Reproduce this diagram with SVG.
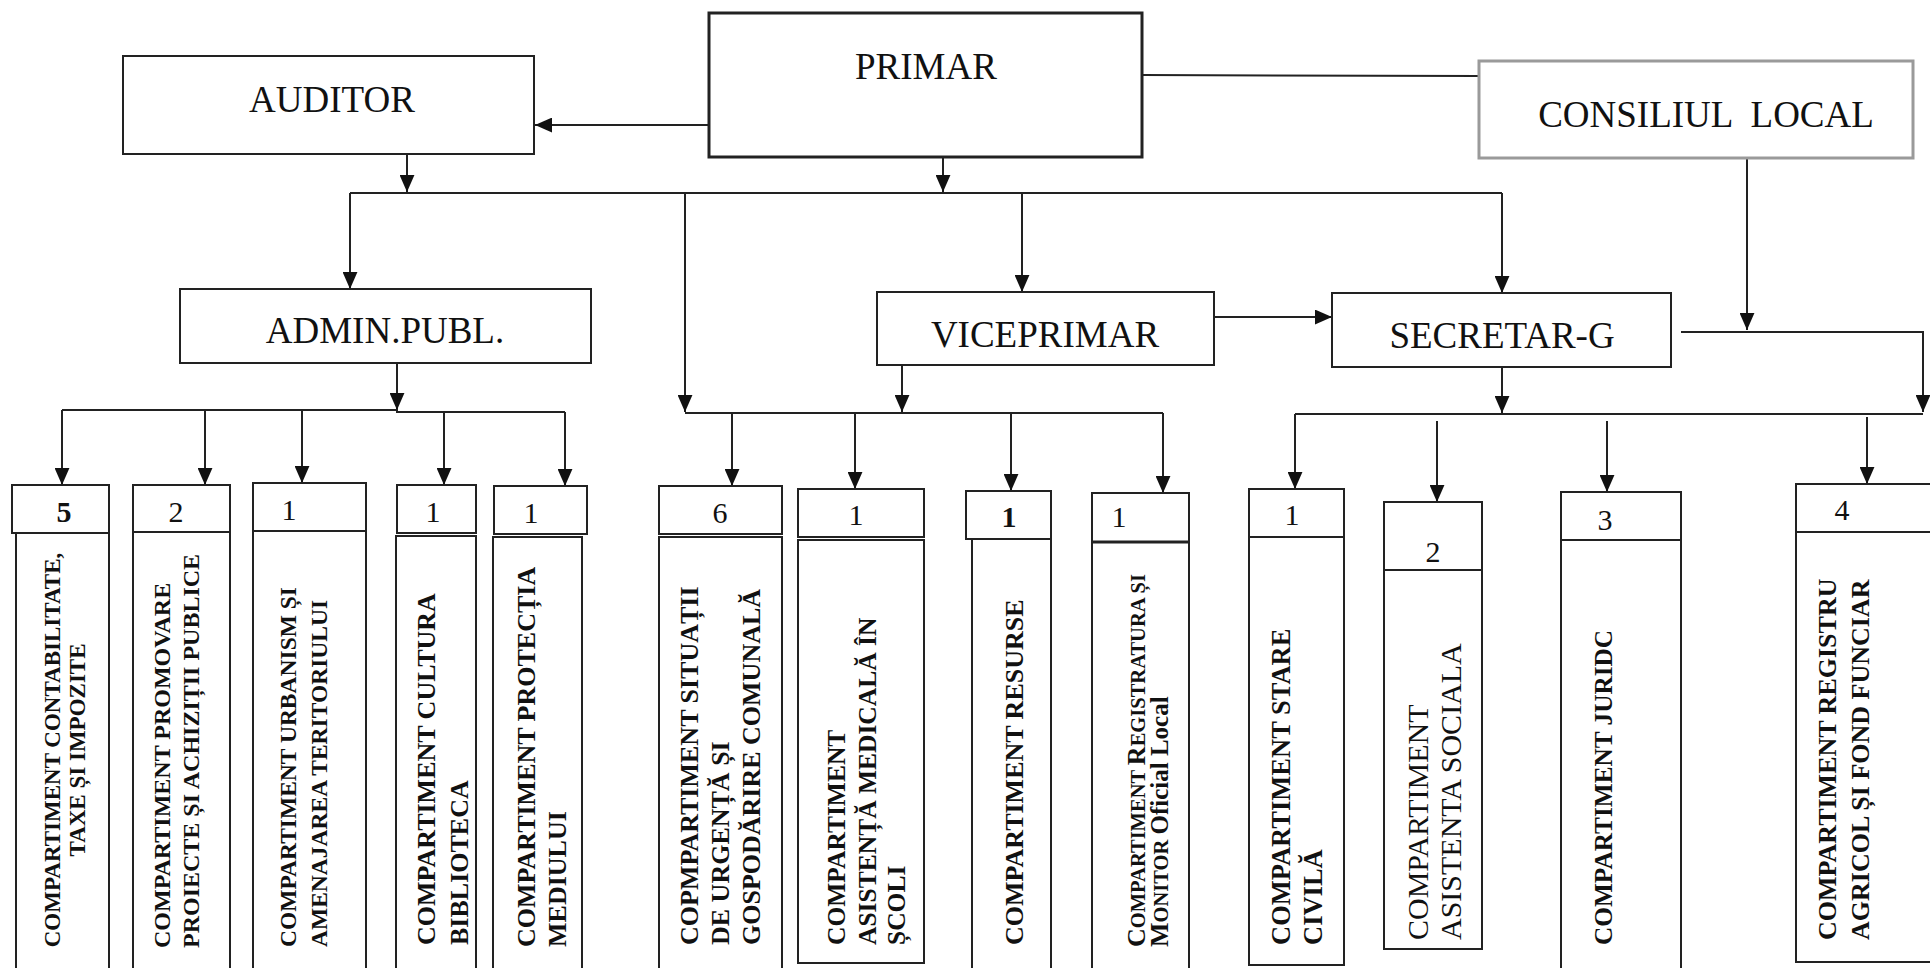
<svg xmlns="http://www.w3.org/2000/svg" width="1930" height="968" viewBox="0 0 1930 968">
<style>
.bx{fill:#fff;stroke:#222;stroke-width:2}
.thick{stroke-width:3}
.gray{stroke:#9a9a9a;stroke-width:3}
.t{font-family:"Liberation Serif","Times New Roman",serif;fill:#111}
.top{font-size:37px;text-anchor:middle}
.num{font-size:30px;text-anchor:middle}
.b{font-weight:bold}
.c{text-anchor:middle}
.s{text-anchor:start}
.sc{font-size:20.5px}
.big{font-size:26px}
#connectors line,#connectors path{stroke:#222;stroke-width:2;fill:none}
.arr{marker-end:url(#ah)}
</style>
<defs>
<marker id="ah" viewBox="0 0 16 14" refX="16" refY="7" markerWidth="17" markerHeight="15" markerUnits="userSpaceOnUse" orient="auto">
<path d="M0,0 L16,7 L0,14 z" fill="#111"/>
</marker>
</defs>
<rect width="1930" height="968" fill="#fff"/>

<g id="connectors">
<line class="arr" x1="709" y1="125" x2="535" y2="125"/>
<line x1="1142" y1="75" x2="1479" y2="76"/>
<line class="arr" x1="407" y1="154" x2="407" y2="192"/>
<line class="arr" x1="943" y1="157" x2="943" y2="192"/>
<line x1="350" y1="193" x2="1502" y2="193"/>
<line class="arr" x1="350" y1="193" x2="350" y2="289"/>
<line class="arr" x1="685" y1="193" x2="685" y2="412"/>
<line class="arr" x1="1022" y1="193" x2="1022" y2="292"/>
<line class="arr" x1="1502" y1="193" x2="1502" y2="293"/>
<line class="arr" x1="1214" y1="317" x2="1332" y2="317"/>
<line class="arr" x1="1747" y1="158" x2="1747" y2="330"/>
<path class="arr" d="M1681,332 H1923 V412"/>
<line class="arr" x1="397" y1="363" x2="397" y2="410"/>
<path d="M62,410 H397 V412 H565"/>
<line class="arr" x1="62" y1="410" x2="62" y2="485"/>
<line class="arr" x1="205" y1="410" x2="205" y2="485"/>
<line class="arr" x1="302" y1="410" x2="302" y2="483"/>
<line class="arr" x1="444" y1="412" x2="444" y2="485"/>
<line class="arr" x1="565" y1="412" x2="565" y2="486"/>
<line class="arr" x1="902" y1="365" x2="902" y2="412"/>
<line x1="685" y1="413" x2="1163" y2="413"/>
<line class="arr" x1="732" y1="413" x2="732" y2="486"/>
<line class="arr" x1="855" y1="413" x2="855" y2="489"/>
<line class="arr" x1="1011" y1="413" x2="1011" y2="491"/>
<line class="arr" x1="1163" y1="413" x2="1163" y2="493"/>
<line class="arr" x1="1502" y1="367" x2="1502" y2="413"/>
<line x1="1295" y1="414" x2="1923" y2="414"/>
<line class="arr" x1="1295" y1="414" x2="1295" y2="489"/>
<line class="arr" x1="1437" y1="421" x2="1437" y2="502"/>
<line class="arr" x1="1607" y1="421" x2="1607" y2="492"/>
<line class="arr" x1="1867" y1="417" x2="1867" y2="484"/>
</g>

<g id="primar">
<rect class="bx thick" x="709" y="13" width="433" height="144"/>
<text class="t top" x="926" y="79">PRIMAR</text>
</g>
<g id="auditor">
<rect class="bx" x="123" y="56" width="411" height="98"/>
<text class="t top" x="332" y="112">AUDITOR</text>
</g>
<g id="consiliul-local">
<rect class="bx gray" x="1479" y="61" width="434" height="97"/>
<text class="t top" x="1706" y="127" xml:space="preserve">CONSILIUL  LOCAL</text>
</g>
<g id="admin-publ">
<rect class="bx" x="180" y="289" width="411" height="74"/>
<text class="t top" x="385" y="343">ADMIN.PUBL.</text>
</g>
<g id="viceprimar">
<rect class="bx" x="877" y="292" width="337" height="73"/>
<text class="t top" x="1045" y="347">VICEPRIMAR</text>
</g>
<g id="secretar-g">
<rect class="bx" x="1332" y="293" width="339" height="74"/>
<text class="t top" x="1502" y="348">SECRETAR-G</text>
</g>

<g id="comp-contabilitate">
<rect class="bx" x="16" y="533" width="93" height="440"/>
<rect class="bx" x="12" y="485" width="97" height="48"/>
<text class="t num b" x="64" y="522">5</text>
<text class="t b c" font-size="23" transform="translate(60,750) rotate(-90)">COMPARTIMENT CONTABILITATE,</text>
<text class="t b c" font-size="23" transform="translate(85,750) rotate(-90)">TAXE ȘI IMPOZITE</text>
</g>
<g id="comp-promovare">
<rect class="bx" x="133" y="532" width="97" height="440"/>
<rect class="bx" x="133" y="485" width="97" height="47"/>
<text class="t num" x="176" y="522">2</text>
<text class="t b s" font-size="24" transform="translate(170,948) rotate(-90)">COMPARTIMENT PROMOVARE</text>
<text class="t b s" font-size="24" transform="translate(199,948) rotate(-90)">PROIECTE ȘI ACHIZIȚII PUBLICE</text>
</g>
<g id="comp-urbanism">
<rect class="bx" x="253" y="531" width="113" height="440"/>
<rect class="bx" x="253" y="483" width="113" height="48"/>
<text class="t num" x="289" y="520">1</text>
<text class="t b s" font-size="23.5" transform="translate(296,947) rotate(-90)">COMPARTIMENT URBANISM ȘI</text>
<text class="t b s" font-size="23.5" transform="translate(327,947) rotate(-90)">AMENAJAREA TERITORIULUI</text>
</g>
<g id="comp-cultura">
<rect class="bx" x="396" y="536" width="80" height="440"/>
<rect class="bx" x="397" y="485" width="79" height="48"/>
<text class="t num" x="433" y="522">1</text>
<text class="t b s" font-size="26" transform="translate(435,945) rotate(-90)">COMPARTIMENT CULTURA</text>
<text class="t b s" font-size="26" transform="translate(468,945) rotate(-90)">BIBLIOTECA</text>
</g>
<g id="comp-protectia">
<rect class="bx" x="493" y="537" width="89" height="440"/>
<rect class="bx" x="494" y="486" width="93" height="48"/>
<text class="t num" x="531" y="523">1</text>
<text class="t b s" font-size="26" transform="translate(535,947) rotate(-90)">COMPARTIMENT PROTECȚIA</text>
<text class="t b s" font-size="26" transform="translate(566,947) rotate(-90)">MEDIULUI</text>
</g>
<g id="comp-situatii">
<rect class="bx" x="659" y="537" width="123" height="440"/>
<rect class="bx" x="659" y="486" width="123" height="48"/>
<text class="t num" x="720" y="523">6</text>
<text class="t b s" font-size="26" transform="translate(698,945) rotate(-90)">COPMPARTIMENT SITUAȚII</text>
<text class="t b s" font-size="26" transform="translate(729,945) rotate(-90)">DE URGENȚĂ ȘI</text>
<text class="t b s" font-size="26" transform="translate(760,945) rotate(-90)">GOSPODĂRIRE COMUNALĂ</text>
</g>
<g id="comp-asistenta-medicala">
<rect class="bx" x="798" y="540" width="126" height="423"/>
<rect class="bx" x="798" y="489" width="126" height="48"/>
<text class="t num" x="856" y="525">1</text>
<text class="t b s" font-size="25.5" transform="translate(845,945) rotate(-90)">COMPARTIMENT</text>
<text class="t b s" font-size="25.5" transform="translate(876,945) rotate(-90)">ASISTENȚĂ MEDICALĂ ÎN</text>
<text class="t b s" font-size="25.5" transform="translate(905,945) rotate(-90)">ȘCOLI</text>
</g>
<g id="comp-resurse">
<rect class="bx" x="972" y="539" width="79" height="440"/>
<rect class="bx" x="966" y="491" width="85" height="48"/>
<text class="t num b" x="1009" y="527">1</text>
<text class="t b s" font-size="26" transform="translate(1023,945) rotate(-90)">COMPARTIMENT RESURSE</text>
</g>
<g id="comp-registratura">
<rect class="bx" x="1092" y="542" width="97" height="440"/>
<rect class="bx" x="1092" y="493" width="97" height="49"/>
<line x1="1092" y1="542" x2="1189" y2="542" stroke="#222" stroke-width="3"/>
<text class="t num" x="1119" y="527">1</text>
<text class="t b s sc" transform="translate(1145,947) rotate(-90)"><tspan class="big">C</tspan>OMPARTIMENT <tspan class="big">R</tspan>EGISTRATURA ȘI</text>
<text class="t b s sc" transform="translate(1168,947) rotate(-90)"><tspan class="big">M</tspan>ONITOR <tspan style="font-size:25px">Oficial Local</tspan></text>
</g>
<g id="comp-stare-civila">
<rect class="bx" x="1249" y="537" width="95" height="428"/>
<rect class="bx" x="1249" y="489" width="95" height="48"/>
<text class="t num" x="1292" y="525">1</text>
<text class="t b s" font-size="26.5" transform="translate(1290,945) rotate(-90)">COMPARTIMENT STARE</text>
<text class="t b s" font-size="26.5" transform="translate(1322,945) rotate(-90)">CIVILĂ</text>
</g>
<g id="comp-asistenta-sociala">
<rect class="bx" x="1384" y="502" width="98" height="447"/>
<line x1="1384" y1="570" x2="1482" y2="570" stroke="#222" stroke-width="2"/>
<text class="t num" x="1433" y="562">2</text>
<text class="t s" font-size="30" transform="translate(1428,940) rotate(-90)">COMPARTIMENT</text>
<text class="t s" font-size="30" transform="translate(1461,940) rotate(-90)">ASISTENTA SOCIALA</text>
</g>
<g id="comp-juridic">
<rect class="bx" x="1561" y="540" width="120" height="440"/>
<rect class="bx" x="1561" y="492" width="120" height="48"/>
<text class="t num" x="1605" y="530">3</text>
<text class="t b s" font-size="25.3" transform="translate(1612,945) rotate(-90)">COMPARTIMENT JURIDC</text>
</g>
<g id="comp-registru-agricol">
<rect class="bx" x="1796" y="532" width="140" height="430"/>
<rect class="bx" x="1796" y="484" width="140" height="48"/>
<text class="t num" x="1842" y="520">4</text>
<text class="t b s" font-size="26" transform="translate(1836,940) rotate(-90)">COMPARTIMENT REGISTRU</text>
<text class="t b s" font-size="26" transform="translate(1869,940) rotate(-90)">AGRICOL ȘI FOND FUNCIAR</text>
</g>
</svg>
